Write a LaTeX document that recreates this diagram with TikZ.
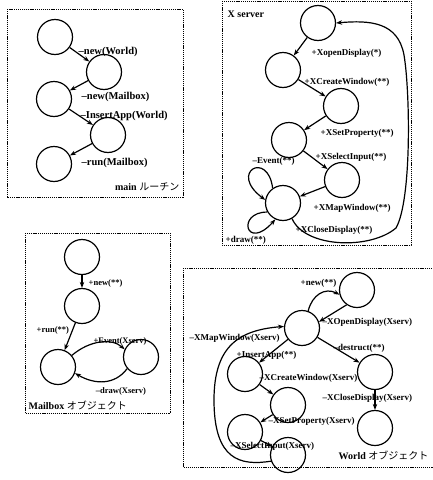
\documentclass[tikz,border=0pt]{standalone}
\usepackage{fontspec}
\setmainfont{Liberation Serif}
\newfontfamily\jp{Noto Sans CJK JP}
\usetikzlibrary{arrows.meta}
\begin{document}
\begin{tikzpicture}[x=1pt,y=-1pt,
  st/.style={circle,draw,line width=1.2pt,minimum size=35pt,inner sep=0pt},
  frame/.style={draw,line width=0.7pt,dash pattern=on 1.2pt off 0.9pt},
  tr/.style={-{Stealth[length=6pt,width=4.5pt]},line width=1.2pt},
  lbl/.style={font=\bfseries\fontsize{9}{9}\selectfont,inner sep=0.5pt,anchor=west},
  lblb/.style={font=\bfseries\fontsize{10.5}{10.5}\selectfont,inner sep=0.5pt,anchor=west},
  lbls/.style={font=\bfseries\fontsize{8.5}{8.5}\selectfont,inner sep=0.5pt},
  ttl/.style={font=\bfseries\fontsize{10}{10}\selectfont,inner sep=0.5pt},
  ]
\useasboundingbox (0,0) rectangle (432,480);
\fill[white] (0,0) rectangle (432,480);

% ---------- main routine ----------
\draw[frame] (7,9) rectangle (183,197);
\node[st] (A1) at (55,37) {};
\node[st] (A2) at (104,72) {};
\node[st] (A3) at (54,99) {};
\node[st] (A4) at (108,135) {};
\node[st] (A5) at (54,164) {};
\draw[tr] (A1) -- (A2);
\draw[tr] (A2) -- (A3);
\draw[tr] (A3) -- (A4);
\draw[tr] (A4) -- (A5);
\node[lblb] (la1) at (78,52) {--new(World)};
\node[lblb] (la2) at (81,97) {--new(Mailbox)};
\node[lblb] (la3) at (80,116) {--InsertApp(World)};
\node[lblb] (la4) at (81,163) {--run(Mailbox)};
\node[ttl,anchor=east] (ta) at (180,187) {main {\jp\mdseries ルーチン}};

% ---------- X server ----------
\draw[frame] (222,1) rectangle (411,245);
\node[ttl,anchor=west] (tb) at (227,14) {X server};
\node[st] (B1) at (318,23) {};
\node[st] (B2) at (283,70) {};
\node[st] (B3) at (341,106) {};
\node[st] (B4) at (289,140) {};
\node[st] (B5) at (342,180) {};
\node[st] (B6) at (283,203) {};
\draw[tr] (B1) -- (B2);
\draw[tr] (B2) -- (B3);
\draw[tr] (B3) -- (B4);
\draw[tr] (B4) -- (B5);
\draw[tr] (B5) -- (B6);
\draw[tr] (B6.125) .. controls (268,150) and (228,172) .. (B6.170);
\draw[tr] (B6.210) .. controls (236,212) and (246,252) .. (B6.245);
\coordinate (bc1) at (396,228);
\coordinate (bc2) at (404,55);
\draw[tr] (B6.300) .. controls (305,248) and (370,250) .. (bc1)
  .. controls (412,200) and (410,90) .. (bc2)
  .. controls (398,22) and (370,20) .. (B1.east);
\node[lbl] (lb1) at (311,53) {+XopenDisplay(*)};
\node[lbl] (lb2) at (304,82) {+XCreateWindow(**)};
\node[lbl] (lb3) at (320,133) {+XSetProperty(**)};
\node[lbl] (lb4) at (315,157) {+XSelectInput(**)};
\node[lbl] (lb5) at (313,208) {+XMapWindow(**)};
\node[lbl] (lb6) at (295,230) {+XCloseDisplay(**)};
\node[lbl] (lb7) at (252,161) {--Event(**)};
\node[lbl] (lb8) at (225,240) {+draw(**)};

% ---------- Mailbox ----------
\draw[frame] (25,233) rectangle (170,413);
\node[st] (C1) at (82,257) {};
\node[st] (C2) at (82,306) {};
\node[st] (C3) at (58,367) {};
\node[st] (C4) at (141,357) {};
\draw[tr] (C1) -- (C2);
\draw[tr] (C2) -- (C3);
\draw[tr] (C3.40) .. controls (90,340) and (112,338) .. (C4.155);
\draw[tr] (C4.220) .. controls (115,385) and (95,385) .. (C3.340);
\node[lbls,anchor=west] (lc1) at (88,283) {+new(**)};
\node[lbls,anchor=west] (lc2) at (36,330) {+run(**)};
\node[lbls] (lc3) at (120,341) {+Event(Xserv)};
\node[lbls] (lc4) at (121,391) {--draw(Xserv)};
\node[ttl,anchor=west] (tc) at (28,405) {Mailbox {\jp\mdseries オブジェクト}};

% ---------- World ----------
\draw[frame] (183,268) rectangle (434,467);
\node[st] (D1) at (357,290) {};
\node[st] (D2) at (302,328) {};
\node[st] (D3) at (375,372) {};
\node[st] (D4) at (245,374) {};
\node[st] (D5) at (288,405) {};
\node[st] (D6) at (245,432) {};
\node[st] (D7) at (288,455) {};
\node[st] (D8) at (375,428) {};
\draw[tr] (D2.70) .. controls (312,295) and (325,287) .. (D1.195);
\draw[tr] (D1.235) -- (D2.20);
\draw[tr] (D2) -- (D3);
\draw[tr] (D3) -- (D8);
\draw[tr] (D2) -- (D4);
\draw[tr] (D4) -- (D5);
\draw[tr] (D5) -- (D6);
\draw[tr] (D6) -- (D7);
\coordinate (dc1) at (214,400);
\draw[tr] (D7.200) .. controls (240,466) and (214,460) .. (dc1)
  .. controls (214,345) and (240,330) .. (D2.175);
\node[lbl,anchor=east] (ld1) at (337,283) {+new(**)};
\node[lbl] (ld2) at (322,322) {--XOpenDisplay(Xserv)};
\node[lbl] (ld3) at (333,348) {--destruct(**)};
\node[lbl] (ld4) at (322,398) {--XCloseDisplay(Xserv)};
\node[lbl] (ld5) at (236,355) {+InsertApp(**)};
\node[lbl] (ld6) at (259,378) {--XCreateWindow(Xserv)};
\node[lbl] (ld7) at (268,421) {--XSetProperty(Xserv)};
\node[lbl] (ld8) at (230,446) {--XSelectInput(Xserv)};
\node[lbl] (ld9) at (189,338) {--XMapWindow(Xserv)};
\node[ttl,anchor=west] (td) at (338,455) {World {\jp\mdseries オブジェクト}};
\end{tikzpicture}
\end{document}
